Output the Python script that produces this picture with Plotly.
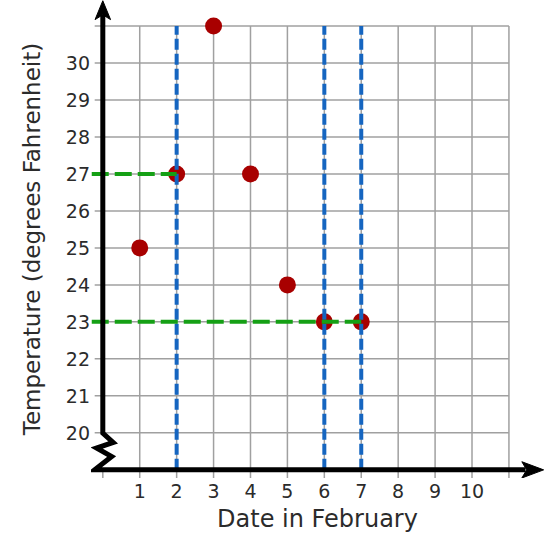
import plotly.graph_objects as go

# ---- data ----
days = [1, 2, 3, 4, 5, 6, 7]
temps = [25, 27, 31, 27, 24, 23, 23]
x_tick_vals = [1, 2, 3, 4, 5, 6, 7, 8, 9, 10]
x_tick_text = ["1", "2", "3", "4", "5", "6", "7", "8", "9", "10"]
y_tick_vals = [20, 21, 22, 23, 24, 25, 26, 27, 28, 29, 30]
y_tick_text = ["20", "21", "22", "23", "24", "25", "26", "27", "28", "29", "30"]
grid_x = [1, 2, 3, 4, 5, 6, 7, 8, 9, 10, 11]
grid_y = [20, 21, 22, 23, 24, 25, 26, 27, 28, 29, 30, 31]
blue_x = [2, 6, 7]
green_y = [27, 23]
green_end_x = [2, 7]

FONT = "DejaVu Sans"
TXT = "#2b2b2b"
GRID = "#a0a0a0"
XMIN, XMAX = -0.32, 11.95
YMIN, YMAX = 18.78, 31.70
Y_BOTTOM = 19
X_TOP = 11
Y_TOP = 31

fig = go.Figure()

shapes = []
# grid
for gy in grid_y:
    shapes.append(dict(type="line", xref="x", yref="y", x0=-0.22, x1=X_TOP, y0=gy, y1=gy,
                       line=dict(color=GRID, width=1.5), layer="below"))
for gx in grid_x:
    shapes.append(dict(type="line", xref="x", yref="y", x0=gx, x1=gx, y0=18.73, y1=Y_TOP,
                       line=dict(color=GRID, width=1.5), layer="below"))
shapes.append(dict(type="line", xref="x", yref="y", x0=0, x1=0, y0=18.73, y1=Y_BOTTOM,
                   line=dict(color=GRID, width=1.5), layer="below"))

# dots
fig.add_trace(go.Scatter(x=days, y=temps, mode="markers",
                         marker=dict(size=17, color="#a80000"),
                         hoverinfo="skip", showlegend=False, cliponaxis=False))

# blue dashed verticals
for bx in blue_x:
    fig.add_trace(go.Scatter(x=[bx, bx], y=[Y_BOTTOM, Y_TOP], mode="lines",
                             line=dict(color="#1565c0", width=4, dash="11px,4px"),
                             hoverinfo="skip", showlegend=False))
# green dashed horizontals
for gy, gx in zip(green_y, green_end_x):
    fig.add_trace(go.Scatter(x=[-0.3, gx], y=[gy, gy], mode="lines",
                             line=dict(color="#15a015", width=4, dash="17px,6px"),
                             hoverinfo="skip", showlegend=False))

# axes with zigzag and arrows
shapes.append(dict(type="path", xref="x", yref="y",
                   path="M 0,31.3 L 0,19.99 L 0.28,19.74 L -0.17,19.59 L 0.24,19.36 L -0.22,19.0 L 11.45,19.0",
                   line=dict(color="black", width=5)))
shapes.append(dict(type="path", xref="x", yref="y",
                   path="M 0,31.68 L 0.21,31.17 L 0,31.3 L -0.21,31.17 Z",
                   fillcolor="black", line=dict(color="black", width=1)))
shapes.append(dict(type="path", xref="x", yref="y",
                   path="M 11.94,19.0 L 11.35,19.22 L 11.48,19.0 L 11.35,18.78 Z",
                   fillcolor="black", line=dict(color="black", width=1)))

annotations = [
    dict(x=-0.68, y=31.25, xref="x", yref="y", text="T", showarrow=False,
         font=dict(family=FONT, size=21, color=TXT)),
    dict(x=11.41, y=18.25, xref="x", yref="y", text="d", showarrow=False,
         font=dict(family=FONT, size=23, color=TXT)),
]

fig.update_layout(
    width=547, height=547,
    margin=dict(l=91, r=3, t=0, b=69),
    plot_bgcolor="white", paper_bgcolor="white",
    shapes=shapes, annotations=annotations,
    xaxis=dict(range=[XMIN, XMAX], tickvals=x_tick_vals, ticktext=x_tick_text,
               showgrid=False, zeroline=False, showline=False, ticks="",
               tickfont=dict(family=FONT, size=19, color=TXT),
               title=dict(text="Date in February", font=dict(family=FONT, size=24, color=TXT), standoff=9),
               automargin=False, fixedrange=True),
    yaxis=dict(range=[YMIN, YMAX], tickvals=y_tick_vals, ticktext=y_tick_text,
               showgrid=False, zeroline=False, showline=False, ticks="",
               tickfont=dict(family=FONT, size=19, color=TXT),
               title=dict(text="Temperature (degrees Fahrenheit)", font=dict(family=FONT, size=23, color=TXT), standoff=18),
               automargin=False, fixedrange=True),
)

fig.write_html("out.html", config={"displayModeBar": False},
               post_script="document.body.style.margin='0';")
